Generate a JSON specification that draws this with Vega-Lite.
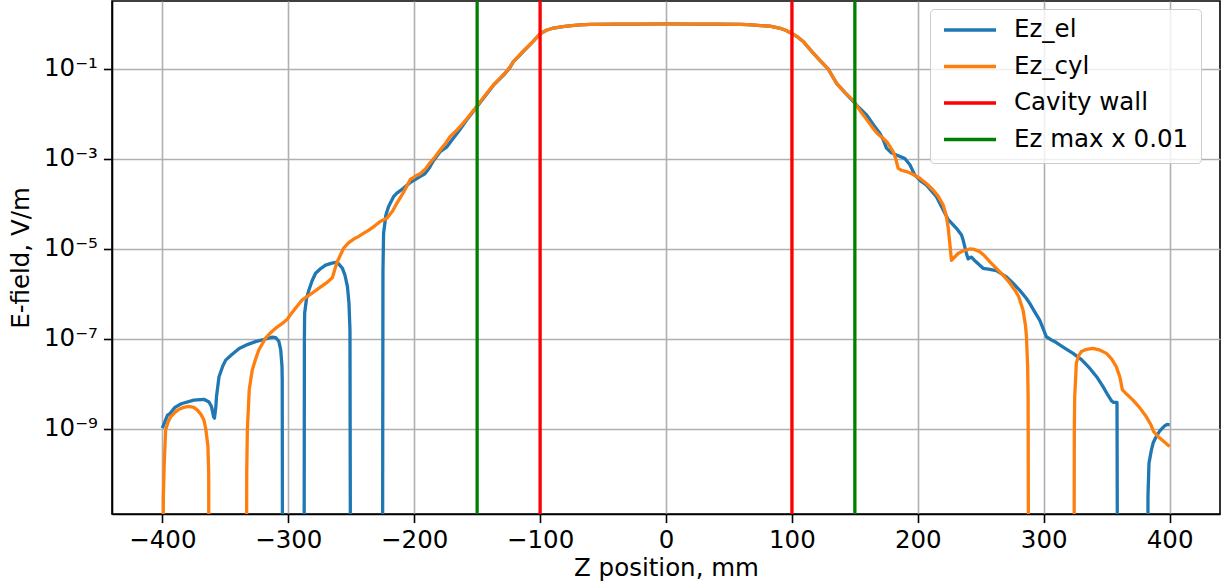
{
  "$schema": "https://vega.github.io/schema/vega-lite/v6.json",
  "width": 1108,
  "height": 513,
  "autosize": {"type": "none"},
  "padding": {"left": 112, "top": 1, "right": 8, "bottom": 74},
  "config": {
    "font": "DejaVu Sans",
    "view": {"stroke": "black", "strokeWidth": 1.6},
    "axis": {
      "labelFont": "DejaVu Sans", "labelFontSize": 24.5, "labelColor": "black",
      "titleFont": "DejaVu Sans", "titleFontSize": 24.5, "titleFontWeight": "normal", "titleColor": "black",
      "domainColor": "black", "domainWidth": 1.6,
      "tickColor": "black", "tickWidth": 1.6, "tickSize": 8.6,
      "gridColor": "#b0b0b0", "gridWidth": 1.6, "gridOpacity": 1
    },
    "legend": {
      "orient": "none", "legendX": 818, "legendY": 8,
      "symbolType": "stroke", "symbolSize": 2704, "symbolStrokeWidth": 3.3,
      "clipHeight": 18, "rowPadding": 11.5, "padding": 12,
      "labelFont": "DejaVu Sans", "labelFontSize": 24.5, "labelOffset": 16, "labelColor": "black",
      "strokeColor": "#cccccc", "fillColor": "rgba(255,255,255,0.8)", "cornerRadius": 4,
      "labelLimit": 400
    }
  },
  "datasets": {
    "curves": [
      {"series":"Ez_el","z":-400,"E":1.047e-9},
      {"series":"Ez_el","z":-396,"E":2.0e-9},
      {"series":"Ez_el","z":-393.7,"E":2.24e-9},
      {"series":"Ez_el","z":-390,"E":3.02e-9},
      {"series":"Ez_el","z":-385,"E":3.63e-9},
      {"series":"Ez_el","z":-375,"E":4.37e-9},
      {"series":"Ez_el","z":-367,"E":4.57e-9},
      {"series":"Ez_el","z":-363,"E":3.98e-9},
      {"series":"Ez_el","z":-361,"E":3.16e-9},
      {"series":"Ez_el","z":-359.3,"E":1.86e-9},
      {"series":"Ez_el","z":-358.6,"E":1.74e-9},
      {"series":"Ez_el","z":-357.5,"E":3.16e-9},
      {"series":"Ez_el","z":-357,"E":5.25e-9},
      {"series":"Ez_el","z":-355,"E":1.45e-8},
      {"series":"Ez_el","z":-352,"E":2.51e-8},
      {"series":"Ez_el","z":-349.7,"E":3.39e-8},
      {"series":"Ez_el","z":-345,"E":4.47e-8},
      {"series":"Ez_el","z":-339,"E":6.17e-8},
      {"series":"Ez_el","z":-332,"E":7.59e-8},
      {"series":"Ez_el","z":-326,"E":8.71e-8},
      {"series":"Ez_el","z":-318,"E":1.0e-7},
      {"series":"Ez_el","z":-312.7,"E":1.10e-7},
      {"series":"Ez_el","z":-310,"E":1.07e-7},
      {"series":"Ez_el","z":-307.5,"E":8.91e-8},
      {"series":"Ez_el","z":-306,"E":5.75e-8},
      {"series":"Ez_el","z":-305,"E":2.51e-8},
      {"series":"Ez_el","z":-304.8,"E":1.23e-8},
      {"series":"Ez_el","z":-304.5,"E":1e-14},
      {"series":"Ez_el","z":-287.5,"E":1e-14},
      {"series":"Ez_el","z":-287.2,"E":1.0e-7},
      {"series":"Ez_el","z":-287,"E":3.72e-7},
      {"series":"Ez_el","z":-285.5,"E":7.94e-7},
      {"series":"Ez_el","z":-283.6,"E":1.23e-6},
      {"series":"Ez_el","z":-281,"E":2.0e-6},
      {"series":"Ez_el","z":-278.3,"E":2.88e-6},
      {"series":"Ez_el","z":-274,"E":3.72e-6},
      {"series":"Ez_el","z":-270.4,"E":4.37e-6},
      {"series":"Ez_el","z":-266,"E":4.79e-6},
      {"series":"Ez_el","z":-262.4,"E":5.01e-6},
      {"series":"Ez_el","z":-260,"E":4.68e-6},
      {"series":"Ez_el","z":-257,"E":3.72e-6},
      {"series":"Ez_el","z":-255,"E":2.63e-6},
      {"series":"Ez_el","z":-253,"E":1.45e-6},
      {"series":"Ez_el","z":-251.8,"E":6.31e-7},
      {"series":"Ez_el","z":-251,"E":1.58e-7},
      {"series":"Ez_el","z":-250.5,"E":1e-14},
      {"series":"Ez_el","z":-225.2,"E":1e-14},
      {"series":"Ez_el","z":-224.8,"E":3.16e-6},
      {"series":"Ez_el","z":-224.3,"E":2.24e-5},
      {"series":"Ez_el","z":-222.5,"E":5.62e-5},
      {"series":"Ez_el","z":-220.4,"E":8.71e-5},
      {"series":"Ez_el","z":-216.4,"E":1.45e-4},
      {"series":"Ez_el","z":-213.7,"E":1.74e-4},
      {"series":"Ez_el","z":-208.5,"E":2.24e-4},
      {"series":"Ez_el","z":-203,"E":3.02e-4},
      {"series":"Ez_el","z":-196,"E":3.98e-4},
      {"series":"Ez_el","z":-191.5,"E":4.68e-4},
      {"series":"Ez_el","z":-188,"E":6.31e-4},
      {"series":"Ez_el","z":-184.7,"E":9.12e-4},
      {"series":"Ez_el","z":-179.4,"E":1.45e-3},
      {"series":"Ez_el","z":-174,"E":1.86e-3},
      {"series":"Ez_el","z":-170,"E":2.63e-3},
      {"series":"Ez_el","z":-164.8,"E":4.07e-3},
      {"series":"Ez_el","z":-158.2,"E":7.41e-3},
      {"series":"Ez_el","z":-150.2,"E":1.45e-2},
      {"series":"Ez_el","z":-143,"E":2.63e-2},
      {"series":"Ez_el","z":-137,"E":4.37e-2},
      {"series":"Ez_el","z":-132,"E":6.03e-2},
      {"series":"Ez_el","z":-127.8,"E":7.94e-2},
      {"series":"Ez_el","z":-124,"E":0.107},
      {"series":"Ez_el","z":-121.2,"E":0.145},
      {"series":"Ez_el","z":-117,"E":0.191},
      {"series":"Ez_el","z":-113.3,"E":0.245},
      {"series":"Ez_el","z":-107,"E":0.372},
      {"series":"Ez_el","z":-100,"E":0.603},
      {"series":"Ez_el","z":-95,"E":0.724},
      {"series":"Ez_el","z":-89.4,"E":0.813},
      {"series":"Ez_el","z":-82,"E":0.871},
      {"series":"Ez_el","z":-75,"E":0.923},
      {"series":"Ez_el","z":-68,"E":0.955},
      {"series":"Ez_el","z":-60,"E":0.977},
      {"series":"Ez_el","z":-40,"E":0.989},
      {"series":"Ez_el","z":-20,"E":0.997},
      {"series":"Ez_el","z":0,"E":1.0},
      {"series":"Ez_el","z":20,"E":0.997},
      {"series":"Ez_el","z":40,"E":0.989},
      {"series":"Ez_el","z":60,"E":0.977},
      {"series":"Ez_el","z":68,"E":0.955},
      {"series":"Ez_el","z":75,"E":0.923},
      {"series":"Ez_el","z":82.5,"E":0.891},
      {"series":"Ez_el","z":90,"E":0.813},
      {"series":"Ez_el","z":95,"E":0.724},
      {"series":"Ez_el","z":100,"E":0.617},
      {"series":"Ez_el","z":105,"E":0.501},
      {"series":"Ez_el","z":109,"E":0.407},
      {"series":"Ez_el","z":113,"E":0.302},
      {"series":"Ez_el","z":117,"E":0.224},
      {"series":"Ez_el","z":122,"E":0.158},
      {"series":"Ez_el","z":128.8,"E":0.1},
      {"series":"Ez_el","z":135.5,"E":4.79e-2},
      {"series":"Ez_el","z":142,"E":3.02e-2},
      {"series":"Ez_el","z":148.7,"E":1.91e-2},
      {"series":"Ez_el","z":154,"E":1.32e-2},
      {"series":"Ez_el","z":159.3,"E":9.55e-3},
      {"series":"Ez_el","z":165,"E":5.62e-3},
      {"series":"Ez_el","z":169.8,"E":3.72e-3},
      {"series":"Ez_el","z":172.5,"E":2.69e-3},
      {"series":"Ez_el","z":175.1,"E":1.74e-3},
      {"series":"Ez_el","z":179,"E":1.38e-3},
      {"series":"Ez_el","z":183,"E":1.23e-3},
      {"series":"Ez_el","z":189.7,"E":1.02e-3},
      {"series":"Ez_el","z":193.7,"E":7.41e-4},
      {"series":"Ez_el","z":197.6,"E":4.37e-4},
      {"series":"Ez_el","z":202,"E":3.31e-4},
      {"series":"Ez_el","z":206.9,"E":2.63e-4},
      {"series":"Ez_el","z":214.8,"E":1.45e-4},
      {"series":"Ez_el","z":220.1,"E":7.41e-5},
      {"series":"Ez_el","z":224,"E":4.57e-5},
      {"series":"Ez_el","z":230.7,"E":2.88e-5},
      {"series":"Ez_el","z":234.7,"E":2.04e-5},
      {"series":"Ez_el","z":236,"E":1.58e-5},
      {"series":"Ez_el","z":238.6,"E":7.94e-6},
      {"series":"Ez_el","z":240,"E":6.03e-6},
      {"series":"Ez_el","z":241,"E":6.31e-6},
      {"series":"Ez_el","z":242.6,"E":6.61e-6},
      {"series":"Ez_el","z":246,"E":5.25e-6},
      {"series":"Ez_el","z":251.8,"E":3.72e-6},
      {"series":"Ez_el","z":256,"E":3.55e-6},
      {"series":"Ez_el","z":262.4,"E":3.31e-6},
      {"series":"Ez_el","z":270.4,"E":2.40e-6},
      {"series":"Ez_el","z":275.6,"E":1.74e-6},
      {"series":"Ez_el","z":281,"E":1.20e-6},
      {"series":"Ez_el","z":286.3,"E":7.94e-7},
      {"series":"Ez_el","z":288.9,"E":6.17e-7},
      {"series":"Ez_el","z":292,"E":4.37e-7},
      {"series":"Ez_el","z":296.8,"E":2.63e-7},
      {"series":"Ez_el","z":300,"E":1.58e-7},
      {"series":"Ez_el","z":302.1,"E":1.12e-7},
      {"series":"Ez_el","z":306,"E":9.55e-8},
      {"series":"Ez_el","z":310,"E":8.32e-8},
      {"series":"Ez_el","z":316,"E":6.46e-8},
      {"series":"Ez_el","z":323.3,"E":4.79e-8},
      {"series":"Ez_el","z":330,"E":3.47e-8},
      {"series":"Ez_el","z":336.5,"E":2.24e-8},
      {"series":"Ez_el","z":342,"E":1.45e-8},
      {"series":"Ez_el","z":347.1,"E":8.71e-9},
      {"series":"Ez_el","z":351,"E":5.62e-9},
      {"series":"Ez_el","z":353.7,"E":4.27e-9},
      {"series":"Ez_el","z":355.5,"E":3.89e-9},
      {"series":"Ez_el","z":358.2,"E":3.89e-9},
      {"series":"Ez_el","z":358.7,"E":1e-14},
      {"series":"Ez_el","z":382.6,"E":1e-14},
      {"series":"Ez_el","z":382.8,"E":3.16e-11},
      {"series":"Ez_el","z":383.6,"E":1.74e-10},
      {"series":"Ez_el","z":385.5,"E":3.39e-10},
      {"series":"Ez_el","z":387,"E":5.01e-10},
      {"series":"Ez_el","z":389.4,"E":6.76e-10},
      {"series":"Ez_el","z":392,"E":8.91e-10},
      {"series":"Ez_el","z":396,"E":1.17e-9},
      {"series":"Ez_el","z":398,"E":1.26e-9},
      {"series":"Ez_el","z":400,"E":1.23e-9},

      {"series":"Ez_cyl","z":-400,"E":1e-14},
      {"series":"Ez_cyl","z":-399.2,"E":3.16e-11},
      {"series":"Ez_cyl","z":-398.5,"E":1.74e-10},
      {"series":"Ez_cyl","z":-397.4,"E":9.55e-10},
      {"series":"Ez_cyl","z":-395.5,"E":1.41e-9},
      {"series":"Ez_cyl","z":-393.4,"E":1.86e-9},
      {"series":"Ez_cyl","z":-390,"E":2.34e-9},
      {"series":"Ez_cyl","z":-386.8,"E":2.75e-9},
      {"series":"Ez_cyl","z":-383,"E":3.02e-9},
      {"series":"Ez_cyl","z":-378.8,"E":3.16e-9},
      {"series":"Ez_cyl","z":-375,"E":3.02e-9},
      {"series":"Ez_cyl","z":-372.2,"E":2.63e-9},
      {"series":"Ez_cyl","z":-369.5,"E":2.14e-9},
      {"series":"Ez_cyl","z":-367,"E":1.58e-9},
      {"series":"Ez_cyl","z":-365.5,"E":1.0e-9},
      {"series":"Ez_cyl","z":-363.8,"E":4.07e-10},
      {"series":"Ez_cyl","z":-363.2,"E":1e-10},
      {"series":"Ez_cyl","z":-363,"E":1e-14},
      {"series":"Ez_cyl","z":-333.3,"E":1e-14},
      {"series":"Ez_cyl","z":-333,"E":1e-10},
      {"series":"Ez_cyl","z":-332.5,"E":9.55e-10},
      {"series":"Ez_cyl","z":-331,"E":7.41e-9},
      {"series":"Ez_cyl","z":-328.6,"E":2.04e-8},
      {"series":"Ez_cyl","z":-326,"E":3.55e-8},
      {"series":"Ez_cyl","z":-323.3,"E":5.75e-8},
      {"series":"Ez_cyl","z":-318,"E":1.05e-7},
      {"series":"Ez_cyl","z":-314,"E":1.38e-7},
      {"series":"Ez_cyl","z":-310,"E":1.74e-7},
      {"series":"Ez_cyl","z":-305,"E":2.19e-7},
      {"series":"Ez_cyl","z":-300.8,"E":2.75e-7},
      {"series":"Ez_cyl","z":-298,"E":3.55e-7},
      {"series":"Ez_cyl","z":-295.5,"E":4.37e-7},
      {"series":"Ez_cyl","z":-292,"E":5.75e-7},
      {"series":"Ez_cyl","z":-288.9,"E":7.41e-7},
      {"series":"Ez_cyl","z":-282,"E":1.0e-6},
      {"series":"Ez_cyl","z":-275.6,"E":1.35e-6},
      {"series":"Ez_cyl","z":-270,"E":1.74e-6},
      {"series":"Ez_cyl","z":-265,"E":2.29e-6},
      {"series":"Ez_cyl","z":-263,"E":3.55e-6},
      {"series":"Ez_cyl","z":-261,"E":5.25e-6},
      {"series":"Ez_cyl","z":-258,"E":7.94e-6},
      {"series":"Ez_cyl","z":-256,"E":1.05e-5},
      {"series":"Ez_cyl","z":-252,"E":1.38e-5},
      {"series":"Ez_cyl","z":-248,"E":1.66e-5},
      {"series":"Ez_cyl","z":-244,"E":1.91e-5},
      {"series":"Ez_cyl","z":-240,"E":2.24e-5},
      {"series":"Ez_cyl","z":-236,"E":2.63e-5},
      {"series":"Ez_cyl","z":-231,"E":3.31e-5},
      {"series":"Ez_cyl","z":-227,"E":4.07e-5},
      {"series":"Ez_cyl","z":-221.7,"E":4.79e-5},
      {"series":"Ez_cyl","z":-217,"E":7.08e-5},
      {"series":"Ez_cyl","z":-213.7,"E":1.05e-4},
      {"series":"Ez_cyl","z":-208,"E":1.91e-4},
      {"series":"Ez_cyl","z":-203,"E":3.55e-4},
      {"series":"Ez_cyl","z":-201,"E":3.80e-4},
      {"series":"Ez_cyl","z":-197.8,"E":4.37e-4},
      {"series":"Ez_cyl","z":-195.2,"E":4.68e-4},
      {"series":"Ez_cyl","z":-191,"E":6.03e-4},
      {"series":"Ez_cyl","z":-187.3,"E":8.32e-4},
      {"series":"Ez_cyl","z":-183,"E":1.15e-3},
      {"series":"Ez_cyl","z":-179.4,"E":1.58e-3},
      {"series":"Ez_cyl","z":-175,"E":2.24e-3},
      {"series":"Ez_cyl","z":-171.4,"E":3.16e-3},
      {"series":"Ez_cyl","z":-167,"E":4.17e-3},
      {"series":"Ez_cyl","z":-163.5,"E":5.25e-3},
      {"series":"Ez_cyl","z":-158,"E":7.94e-3},
      {"series":"Ez_cyl","z":-150.2,"E":1.51e-2},
      {"series":"Ez_cyl","z":-143,"E":2.75e-2},
      {"series":"Ez_cyl","z":-137,"E":4.47e-2},
      {"series":"Ez_cyl","z":-132,"E":6.17e-2},
      {"series":"Ez_cyl","z":-127.8,"E":8.13e-2},
      {"series":"Ez_cyl","z":-124,"E":0.110},
      {"series":"Ez_cyl","z":-121.2,"E":0.145},
      {"series":"Ez_cyl","z":-117,"E":0.195},
      {"series":"Ez_cyl","z":-113.3,"E":0.251},
      {"series":"Ez_cyl","z":-107,"E":0.372},
      {"series":"Ez_cyl","z":-100,"E":0.603},
      {"series":"Ez_cyl","z":-95,"E":0.724},
      {"series":"Ez_cyl","z":-89.4,"E":0.813},
      {"series":"Ez_cyl","z":-82,"E":0.871},
      {"series":"Ez_cyl","z":-75,"E":0.923},
      {"series":"Ez_cyl","z":-68,"E":0.955},
      {"series":"Ez_cyl","z":-60,"E":0.977},
      {"series":"Ez_cyl","z":-40,"E":0.989},
      {"series":"Ez_cyl","z":-20,"E":0.997},
      {"series":"Ez_cyl","z":0,"E":1.0},
      {"series":"Ez_cyl","z":20,"E":0.997},
      {"series":"Ez_cyl","z":40,"E":0.989},
      {"series":"Ez_cyl","z":60,"E":0.977},
      {"series":"Ez_cyl","z":68,"E":0.955},
      {"series":"Ez_cyl","z":75,"E":0.923},
      {"series":"Ez_cyl","z":82.5,"E":0.891},
      {"series":"Ez_cyl","z":90,"E":0.813},
      {"series":"Ez_cyl","z":95,"E":0.724},
      {"series":"Ez_cyl","z":100,"E":0.617},
      {"series":"Ez_cyl","z":105,"E":0.501},
      {"series":"Ez_cyl","z":109,"E":0.407},
      {"series":"Ez_cyl","z":113,"E":0.302},
      {"series":"Ez_cyl","z":117,"E":0.224},
      {"series":"Ez_cyl","z":122,"E":0.158},
      {"series":"Ez_cyl","z":128.8,"E":0.1},
      {"series":"Ez_cyl","z":135.5,"E":4.79e-2},
      {"series":"Ez_cyl","z":142,"E":3.02e-2},
      {"series":"Ez_cyl","z":148.7,"E":2.0e-2},
      {"series":"Ez_cyl","z":154,"E":1.20e-2},
      {"series":"Ez_cyl","z":159.3,"E":7.59e-3},
      {"series":"Ez_cyl","z":164.5,"E":4.79e-3},
      {"series":"Ez_cyl","z":168,"E":3.63e-3},
      {"series":"Ez_cyl","z":172.5,"E":2.88e-3},
      {"series":"Ez_cyl","z":176,"E":2.29e-3},
      {"series":"Ez_cyl","z":180.4,"E":1.45e-3},
      {"series":"Ez_cyl","z":182.5,"E":1.0e-3},
      {"series":"Ez_cyl","z":184.4,"E":6.17e-4},
      {"series":"Ez_cyl","z":187,"E":5.62e-4},
      {"series":"Ez_cyl","z":191,"E":5.25e-4},
      {"series":"Ez_cyl","z":196,"E":4.57e-4},
      {"series":"Ez_cyl","z":201.6,"E":3.72e-4},
      {"series":"Ez_cyl","z":207,"E":2.82e-4},
      {"series":"Ez_cyl","z":212.1,"E":2.04e-4},
      {"series":"Ez_cyl","z":216,"E":1.51e-4},
      {"series":"Ez_cyl","z":220.1,"E":9.55e-5},
      {"series":"Ez_cyl","z":222.5,"E":5.62e-5},
      {"series":"Ez_cyl","z":224,"E":3.16e-5},
      {"series":"Ez_cyl","z":225.5,"E":1.26e-5},
      {"series":"Ez_cyl","z":226.7,"E":5.62e-6},
      {"series":"Ez_cyl","z":228.5,"E":6.31e-6},
      {"series":"Ez_cyl","z":232,"E":7.94e-6},
      {"series":"Ez_cyl","z":236,"E":9.12e-6},
      {"series":"Ez_cyl","z":241.3,"E":1.0e-5},
      {"series":"Ez_cyl","z":245,"E":9.77e-6},
      {"series":"Ez_cyl","z":249.2,"E":8.71e-6},
      {"series":"Ez_cyl","z":253,"E":7.08e-6},
      {"series":"Ez_cyl","z":257.1,"E":5.25e-6},
      {"series":"Ez_cyl","z":262,"E":3.80e-6},
      {"series":"Ez_cyl","z":267.7,"E":2.63e-6},
      {"series":"Ez_cyl","z":272,"E":1.91e-6},
      {"series":"Ez_cyl","z":277,"E":1.23e-6},
      {"series":"Ez_cyl","z":280,"E":8.91e-7},
      {"series":"Ez_cyl","z":283.6,"E":4.37e-7},
      {"series":"Ez_cyl","z":285.5,"E":2.0e-7},
      {"series":"Ez_cyl","z":286.3,"E":1.12e-7},
      {"series":"Ez_cyl","z":287.2,"E":2.51e-8},
      {"series":"Ez_cyl","z":287.6,"E":5.25e-9},
      {"series":"Ez_cyl","z":288,"E":1e-14},
      {"series":"Ez_cyl","z":324,"E":1e-14},
      {"series":"Ez_cyl","z":324.3,"E":1.0e-9},
      {"series":"Ez_cyl","z":324.6,"E":5.25e-9},
      {"series":"Ez_cyl","z":325.3,"E":1.26e-8},
      {"series":"Ez_cyl","z":325.9,"E":2.88e-8},
      {"series":"Ez_cyl","z":327.5,"E":4.17e-8},
      {"series":"Ez_cyl","z":329.9,"E":5.25e-8},
      {"series":"Ez_cyl","z":334,"E":5.89e-8},
      {"series":"Ez_cyl","z":339.1,"E":6.17e-8},
      {"series":"Ez_cyl","z":344,"E":5.75e-8},
      {"series":"Ez_cyl","z":349.8,"E":4.79e-8},
      {"series":"Ez_cyl","z":354,"E":3.55e-8},
      {"series":"Ez_cyl","z":357.7,"E":2.40e-8},
      {"series":"Ez_cyl","z":360.5,"E":1.41e-8},
      {"series":"Ez_cyl","z":362.5,"E":7.41e-9},
      {"series":"Ez_cyl","z":366,"E":5.89e-9},
      {"series":"Ez_cyl","z":370.9,"E":4.37e-9},
      {"series":"Ez_cyl","z":376,"E":3.02e-9},
      {"series":"Ez_cyl","z":381.5,"E":1.86e-9},
      {"series":"Ez_cyl","z":385,"E":1.26e-9},
      {"series":"Ez_cyl","z":387.3,"E":8.71e-10},
      {"series":"Ez_cyl","z":391,"E":6.76e-10},
      {"series":"Ez_cyl","z":394.7,"E":5.50e-10},
      {"series":"Ez_cyl","z":400,"E":4.07e-10}
    ],
    "walls": [
      {"series":"Cavity wall","z":-100},
      {"series":"Cavity wall","z":100},
      {"series":"Ez max x 0.01","z":-150},
      {"series":"Ez max x 0.01","z":150}
    ]
  },
  "layer": [
    {
      "data": {"name": "curves"},
      "transform": [{"filter": "datum.series == 'Ez_el'"}],
      "mark": {"type": "line", "clip": true, "strokeWidth": 3.3, "strokeJoin": "round", "strokeCap": "butt"},
      "encoding": {
        "x": {"field": "z", "type": "quantitative",
              "scale": {"domain": [-440, 440], "nice": false, "zero": false},
              "axis": {"title": "Z position, mm", "values": [-400,-300,-200,-100,0,100,200,300,400], "labelPadding": 6, "titlePadding": 4, "labelFlush": false}},
        "y": {"field": "E", "type": "quantitative",
              "scale": {"type": "log", "domain": [1.29e-11, 3.24], "nice": false},
              "axis": {"title": "E-field, V/m", "values": [1e-9,1e-7,1e-5,1e-3,1e-1], "labelPadding": 6, "titlePadding": 10,
                       "labelExpr": "'10' + (round(log(datum.value)/LN10) == -1 ? '⁻¹' : round(log(datum.value)/LN10) == -3 ? '⁻³' : round(log(datum.value)/LN10) == -5 ? '⁻⁵' : round(log(datum.value)/LN10) == -7 ? '⁻⁷' : '⁻⁹')"}},
        "color": {"field": "series", "type": "nominal",
                  "scale": {"domain": ["Ez_el","Ez_cyl","Cavity wall","Ez max x 0.01"], "range": ["#1f77b4","#ff7f0e","#ff0000","#008000"]},
                  "legend": {"title": null}}
      }
    },
    {
      "data": {"name": "curves"},
      "transform": [{"filter": "datum.series == 'Ez_cyl'"}],
      "mark": {"type": "line", "clip": true, "strokeWidth": 3.3, "strokeJoin": "round", "strokeCap": "butt"},
      "encoding": {
        "x": {"field": "z", "type": "quantitative"},
        "y": {"field": "E", "type": "quantitative"},
        "color": {"field": "series", "type": "nominal"}
      }
    },
    {
      "data": {"name": "walls"},
      "mark": {"type": "rule", "strokeWidth": 3.3},
      "encoding": {
        "x": {"field": "z", "type": "quantitative"},
        "color": {"field": "series", "type": "nominal"}
      }
    }
  ]
}
